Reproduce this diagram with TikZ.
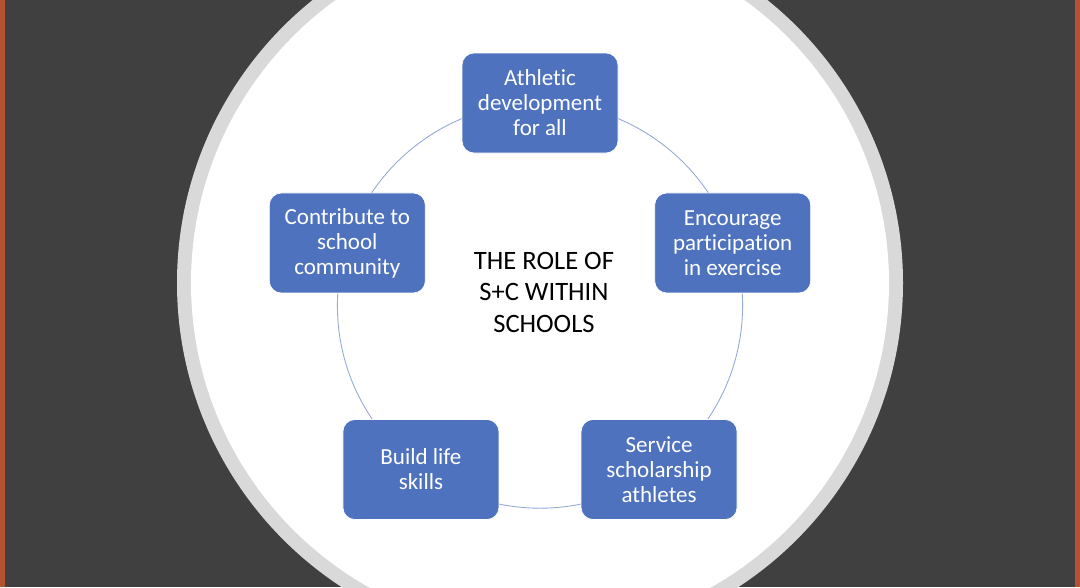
\documentclass[tikz,border=0pt]{standalone}
\usepackage{fontspec}
\setmainfont{Carlito}[Ligatures=NoCommon]
\usepackage{tikz}
\definecolor{slidebg}{RGB}{64,64,64}
\definecolor{slideedge}{RGB}{180,82,50}
\definecolor{ringgray}{RGB}{217,217,217}
\definecolor{boxblue}{RGB}{79,114,190}
\definecolor{cyclelink}{RGB}{150,170,215}

\begin{document}
\begin{tikzpicture}[rolenode/.style={rectangle, rounded corners=0.24cm, draw=white, line width=0.4pt, fill=boxblue, text=white, minimum width=3.12cm, minimum height=2cm, align=center, font=\fontsize{13.1}{14.2}\selectfont}, hubnode/.style={draw=none, fill=none, text=black, align=center, font=\fontsize{15.1}{17.9}\selectfont}, cycle/.style={draw=cyclelink, line width=0.5pt}]

    %Slide
    \useasboundingbox (-10.8,-5.628) rectangle (10.8,6.112);
    \clip (-10.8,-5.628) rectangle (10.8,6.112);
    \fill[slidebg] (-10.8,-5.628) rectangle (10.8,6.112);
    \fill[slideedge] (-10.8,-5.628) rectangle (-10.7,6.112);
    \fill[slideedge] (10.7,-5.628) rectangle (10.8,6.112);
    \fill[ringgray] (0,0.452) circle (7.26);
    \fill[white] (0,0.452) circle (6.98);

    %Lines
    \coordinate (hub) at (0,0);
    \draw[cycle] (hub) circle (4.052);

    %Nodes
    \node[hubnode](role) at (0.08,0.27){THE ROLE OF\\S+C WITHIN\\SCHOOLS};

    \node[rolenode](athletic) at (90:4.052){Athletic\\development\\for all};
    \node[rolenode](encourage) at (18:4.052){Encourage\\participation\\in exercise};
    \node[rolenode](service) at (-54:4.052){Service\\scholarship\\athletes};
    \node[rolenode](build) at (-126:4.052){Build life\\skills};
    \node[rolenode](contribute) at (162:4.052){Contribute to\\school\\community};

\end{tikzpicture}
\end{document}
